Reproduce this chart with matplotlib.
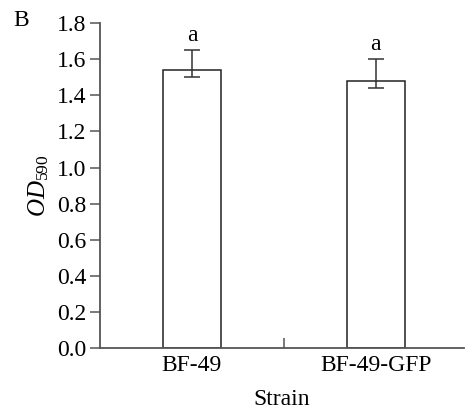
import matplotlib
matplotlib.use('Agg')
import matplotlib.pyplot as plt
import numpy as np

plt.rcParams['font.family'] = ['Liberation Serif', 'DejaVu Serif']
plt.rcParams['mathtext.fontset'] = 'custom'
plt.rcParams['mathtext.rm'] = 'Liberation Serif'
plt.rcParams['mathtext.it'] = 'Liberation Serif:italic'

# data
strains = ['BF-49', 'BF-49-GFP']
od590 = [1.54, 1.48]
err_low = [0.04, 0.04]
err_high = [0.11, 0.12]
letters = ['a', 'a']
yticks = [0.0, 0.2, 0.4, 0.6, 0.8, 1.0, 1.2, 1.4, 1.6, 1.8]

axis_col = '#555555'
fs = 17

fig = plt.figure(figsize=(4.65, 4.11), dpi=100)
ax = fig.add_axes([0.215, 0.153, 0.783, 0.791])

x = np.arange(len(strains))
ax.bar(x, od590, width=0.315, color='white', edgecolor='#222222', linewidth=1.1, zorder=2)
ax.errorbar(x, od590, yerr=[err_low, err_high], fmt='none', ecolor='#333333',
            elinewidth=1.1, capsize=6, capthick=1.1, zorder=3)

for i in range(len(strains)):
    ax.text(x[i], od590[i] + err_high[i] + 0.025, letters[i], ha='center', va='bottom', fontsize=fs)

ax.set_xlim(-0.5, 1.48)
ax.set_ylim(0, 1.8)
ax.set_yticks(yticks)
ax.set_yticklabels(['{:.1f}'.format(v) for v in yticks], fontsize=fs)
ax.set_xticks(x)
ax.set_xticklabels(strains, fontsize=fs)
ax.tick_params(axis='x', length=0, pad=5)
ax.tick_params(axis='y', direction='out', length=7, width=1.1, color=axis_col, pad=3)
# small tick between the two bars
ax.set_xticks([0.5], minor=True)
ax.tick_params(axis='x', which='minor', direction='in', length=7, width=1.1, color=axis_col)

for s in ['top', 'right']:
    ax.spines[s].set_visible(False)
for s in ['left', 'bottom']:
    ax.spines[s].set_color(axis_col)
    ax.spines[s].set_linewidth(1.3)

ax.set_xlabel('Strain', fontsize=fs, labelpad=9)
ax.set_ylabel(r'$\mathit{OD}_{\mathrm{590}}$', fontsize=18, labelpad=4)

fig.text(0.045, 0.95, 'B', fontsize=fs, ha='center', va='center')

fig.savefig('out.png', dpi=100)
